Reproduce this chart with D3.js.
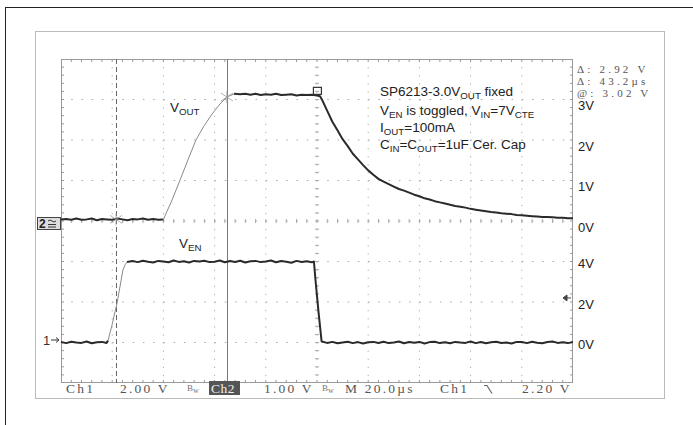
<!DOCTYPE html>
<html><head><meta charset="utf-8">
<script src="https://cdn.jsdelivr.net/npm/d3@7"></script>
<style>body{margin:0;background:#fff}svg{display:block}</style>
</head><body><svg id="c" width="693" height="425"></svg>
<script>
// ---------- DATA ----------
const venTime = [0,2,4,6,8,10,12,14,16,17.8,
  18.4,19.9,21.9,24.2,25.1,25.8,
  28,30,32,34,36,38,40,42,44,46,48,50,52,54,56,58,60,62,64,66,68,70,72,74,76,78,80,82,84,86,88,90,92,94,96,98,
  98.8,99.4,100.6,101.8,
  104,106,108,110,112,114,116,118,120,122,124,126,128,130,132,134,136,138,140,142,144,146,148,150,
  152,154,156,158,160,162,164,166,168,170,172,174,176,178,180,182,184,186,188,190,192,194,196,198,200];
const venVolts = [0.02,-0.03,0.04,0.0,-0.02,0.05,-0.04,0.01,0.03,-0.02,
  0.1,0.85,1.95,3.58,3.85,3.98,
  4.02,3.97,4.04,3.99,3.95,4.03,4.0,3.96,4.05,3.98,4.01,3.95,4.03,4.0,4.04,3.97,3.99,4.05,3.96,4.02,3.98,4.04,3.95,4.01,4.03,3.97,4.0,4.05,3.96,4.02,3.99,3.94,4.03,3.98,4.01,3.96,
  4.0,3.1,1.5,0.05,
  -0.02,0.03,-0.04,0.0,0.04,-0.03,0.02,-0.05,0.01,0.03,-0.02,0.04,-0.03,0.0,0.05,-0.04,0.02,-0.01,0.03,-0.05,0.02,0.04,-0.03,0.01,
  -0.04,0.03,0.0,-0.02,0.05,-0.03,0.02,-0.04,0.01,0.04,-0.02,0.0,-0.05,0.03,0.02,-0.03,0.04,-0.01,-0.04,0.02,0.05,-0.02,0.01,-0.03,0.02];

const voutTime = [0,2,4,6,8,10,12,14,16,18,20,22,24,26,28,30,32,34,36,38,40,
  43.4,46.5,49.6,52.7,55.9,59.0,62.1,64.8,67.6,
  70,72,74,76,78,80,82,84,86,88,90,92,94,96,98,100,
  101.2,102,104,106,108,110,112,114,116,118,120,122,124,126,128,130,132,134,136,138,140,142,144,146,148,150,
  152,154,156,158,160,162,164,166,168,170,172,174,176,178,180,182,184,186,188,190,192,194,196,198,200];
const voutVolts = [0.04,0.05,0.03,0.06,0.03,0.04,0.06,0.02,0.05,0.04,0.03,0.06,0.04,0.02,0.05,0.04,0.06,0.03,0.05,0.03,0.04,
  0.52,1.01,1.51,2.0,2.35,2.64,2.89,3.06,3.14,
  3.13,3.14,3.12,3.14,3.11,3.13,3.12,3.14,3.11,3.12,3.13,3.10,3.12,3.11,3.12,3.10,
  3.08,2.99,2.72,2.45,2.24,2.02,1.85,1.66,1.52,1.38,1.25,1.14,1.04,0.97,0.91,0.85,0.79,0.75,0.70,0.65,0.61,0.56,0.53,0.49,0.46,0.43,
  0.40,0.37,0.35,0.33,0.30,0.28,0.26,0.24,0.22,0.21,0.19,0.18,0.17,0.15,0.14,0.13,0.12,0.11,0.10,0.10,0.09,0.08,0.08,0.07,0.07];

const voutFast = [40, 67.6];   // dim (fast) portion of the VOUT trace
const venFast = [18.2, 25.8];  // dim portion of the VEN trace
const cursorTimes = [21.5, 64.8];
const voutTickValues = [0,1,2,3];
const voutTickLabels = ["0V","1V","2V","3V"];
const venTickValues = [0,2,4];
const venTickLabels = ["0V","2V","4V"];
const readouts = ["\u0394: 2.92 V","\u0394: 43.2\u00b5s","@: 3.02 V"];
const statusTexts = ["Ch1","2.00 V","Ch2","1.00 V","M 20.0\u00b5s","Ch1","2.20 V"];
const timeDomain = [0,200];
const divisionsX = 10, divisionsY = 8;

// ---------- DRAW ----------
const svg = d3.select("#c");
const L = 61, R = 573, T = 59, B = 383;
const x = d3.scaleLinear().domain(timeDomain).range([L,R]);
const y2 = d3.scaleLinear().domain([-4,4]).range([B,T]);   // Ch2 VOUT 1V/div
const y1 = d3.scaleLinear().domain([-2,14]).range([B,T]);  // Ch1 VEN 2V/div

svg.append("rect").attr("x",5.5).attr("y",7.5).attr("width",720).attr("height",440)
  .attr("fill","none").attr("stroke","#222").attr("stroke-width",1);
svg.append("rect").attr("x",35.5).attr("y",31.5).attr("width",629).attr("height",367)
  .attr("fill","none").attr("stroke","#777").attr("stroke-width",1).attr("stroke-dasharray","1,1");

const g = svg.append("g");
const dx = (R-L)/divisionsX, dyy = (B-T)/divisionsY;
const xt = d3.range(1,divisionsX).map(i=>L+i*dx);
const yt = d3.range(1,divisionsY).map(i=>T+i*dyy);
g.selectAll(".gv").data(xt).join("line").attr("x1",d=>d).attr("x2",d=>d).attr("y1",T).attr("y2",B)
  .attr("stroke","#aaa").attr("stroke-width",1).attr("stroke-dasharray",`1.2,${(dyy/5-1.2).toFixed(2)}`);
g.selectAll(".gh").data(yt).join("line").attr("y1",d=>d).attr("y2",d=>d).attr("x1",L).attr("x2",R)
  .attr("stroke","#aaa").attr("stroke-width",1).attr("stroke-dasharray",`1.5,${(dx/5-1.5).toFixed(2)}`);
const minorX = d3.range(1,divisionsX*5).map(i=>L+i*dx/5);
const minorY = d3.range(1,divisionsY*5).map(i=>T+i*dyy/5);
const cx = L+5*dx, cy = T+4*dyy;
g.selectAll(".mt").data(minorX).join("line").attr("x1",d=>d).attr("x2",d=>d).attr("y1",T).attr("y2",T+3).attr("stroke","#999");
g.selectAll(".mb").data(minorX).join("line").attr("x1",d=>d).attr("x2",d=>d).attr("y1",B-3).attr("y2",B).attr("stroke","#999");
g.selectAll(".mc").data(minorX).join("line").attr("x1",d=>d).attr("x2",d=>d).attr("y1",cy-2).attr("y2",cy+2).attr("stroke","#aaa");
g.selectAll(".ml").data(minorY).join("line").attr("y1",d=>d).attr("y2",d=>d).attr("x1",L).attr("x2",L+3).attr("stroke","#999");
g.selectAll(".mr").data(minorY).join("line").attr("y1",d=>d).attr("y2",d=>d).attr("x1",R-3).attr("x2",R).attr("stroke","#999");
g.selectAll(".mcy").data(minorY).join("line").attr("y1",d=>d).attr("y2",d=>d).attr("x1",cx-2).attr("x2",cx+2).attr("stroke","#aaa");
g.append("rect").attr("x",L+0.5).attr("y",T+0.5).attr("width",R-L-1).attr("height",B-T-1)
  .attr("fill","none").attr("stroke","#999").attr("stroke-width",1);

// cursors
svg.append("line").attr("x1",Math.round(x(cursorTimes[0]))+0.5).attr("x2",Math.round(x(cursorTimes[0]))+0.5)
  .attr("y1",T).attr("y2",B).attr("stroke","#666").attr("stroke-dasharray","5,3");
svg.append("line").attr("x1",Math.round(x(cursorTimes[1]))+0.5).attr("x2",Math.round(x(cursorTimes[1]))+0.5)
  .attr("y1",T).attr("y2",B).attr("stroke","#777");

// traces
function drawTrace(times, volts, ys, fast){
  const pts = times.map((t,i)=>[x(t), ys(volts[i]), t]);
  const segs = [];
  let cur = null;
  for(let i=0;i<pts.length-1;i++){
    const mid = (pts[i][2]+pts[i+1][2])/2;
    const isFast = mid>fast[0] && mid<fast[1];
    if(!cur || cur.fast!==isFast){ cur = {fast:isFast, pts:[pts[i]]}; segs.push(cur); }
    cur.pts.push(pts[i+1]);
  }
  const line = d3.line().x(d=>d[0]).y(d=>d[1]);
  svg.selectAll(null).data(segs).join("path").attr("d",d=>line(d.pts)).attr("fill","none")
    .attr("stroke",d=>d.fast?"#8a8a8a":"#2a2a2a").attr("stroke-width",d=>d.fast?1:2)
    .attr("stroke-linejoin","round");
}
drawTrace(voutTime, voutVolts, y2, voutFast);
drawTrace(venTime, venVolts, y1, venFast);

function star(px,py){
  const s = svg.append("g").attr("stroke","#999").attr("stroke-width",0.8);
  [[-6,-4,6,4],[-6,4,6,-4],[0,-6,0,6]].forEach(a=>s.append("line")
    .attr("x1",px+a[0]).attr("y1",py+a[1]).attr("x2",px+a[2]).attr("y2",py+a[3]));
}
star(x(cursorTimes[0]), y2(0.04));
star(x(cursorTimes[1]), y2(3.06));

svg.append("rect").attr("x",x(98.6)).attr("y",y2(3.3)).attr("width",8).attr("height",7)
  .attr("fill","none").attr("stroke","#333").attr("stroke-width",1.2);

// channel 2 ground marker
const m2 = svg.append("g");
m2.append("rect").attr("x",37.5).attr("y",217.5).attr("width",23).attr("height",12).attr("fill","#ddd").attr("stroke","#444");
m2.append("text").attr("x",39).attr("y",228).text("2").attr("font-family","Liberation Sans").attr("font-weight","bold").attr("font-size",12).attr("fill","#222");
m2.append("path").attr("d","M48,221 q2,-2 4,0 t4,0 M48,224.5 h8 M48,227 h8").attr("fill","none").attr("stroke","#333").attr("stroke-width",1);
// channel 1 ground marker "1→"
svg.append("text").attr("x",43).attr("y",y1(0)+2).text("1").attr("font-family","Liberation Sans").attr("font-size",13).attr("fill","#333");
svg.append("path").attr("d",`M51,${y1(0)-2.5} h8 M56,${y1(0)-5} l3,2.5 l-3,2.5`).attr("fill","none").attr("stroke","#333").attr("stroke-width",1);

// trigger level marker
const ty = y1(2.2);
svg.append("path").attr("d",`M${R-10},${ty} l4,-3 v6 z M${R-6},${ty} h4`).attr("fill","#444").attr("stroke","#444").attr("stroke-width",1);

// right axis labels
const ax2 = d3.axisRight(y2).tickValues(voutTickValues).tickFormat((d,i)=>voutTickLabels[i]).tickSize(0).tickPadding(0);
const ax1 = d3.axisRight(y1).tickValues(venTickValues).tickFormat((d,i)=>venTickLabels[i]).tickSize(0).tickPadding(0);
[[ax2,6],[ax1,2]].forEach(([a,off])=>{
  const gg = svg.append("g").attr("transform",`translate(578,${off})`).call(a);
  gg.select(".domain").remove();
  gg.selectAll("text").attr("font-family","Liberation Sans").attr("font-size",13).attr("fill","#222");
});

// readouts top-right
svg.selectAll(null).data(readouts).join("text").attr("x",577).attr("y",(d,i)=>73+i*12).text(d=>d)
  .attr("font-family","Liberation Serif").attr("font-size",11).attr("fill","#555").attr("letter-spacing",3.2);

function rich(xp, yp, parts, size){
  const t = svg.append("text").attr("x",xp).attr("y",yp).attr("font-family","Liberation Sans")
    .attr("font-size",size).attr("fill","#222");
  let sub = false;
  parts.forEach(([s,isSub])=>{
    const ts = t.append("tspan").text(s);
    if(isSub && !sub){ ts.attr("dy",3).attr("font-size",size*0.72); sub=true; }
    else if(isSub){ ts.attr("font-size",size*0.72); }
    else if(!isSub && sub){ ts.attr("dy",-3); sub=false; }
  });
}
rich(380, 96, [["SP6213-3.0V",0],["OUT",1],[" fixed",0]], 13.5);
rich(380, 115, [["V",0],["EN",1],[" is toggled, V",0],["IN",1],["=7V",0],["CTE",1]], 13.5);
rich(380, 132, [["I",0],["OUT",1],["=100mA",0]], 13.5);
rich(380, 149, [["C",0],["IN",1],["=C",0],["OUT",1],["=1uF Cer. Cap",0]], 13.5);
rich(170, 112, [["V",0],["OUT",1]], 13.5);
rich(179, 248, [["V",0],["EN",1]], 13.5);

// status line
const statusX = [66, 120, 211, 264, 345, 440, 522];
svg.append("rect").attr("x",209).attr("y",381).attr("width",31).attr("height",14).attr("fill","#555");
const st = svg.append("g").attr("font-family","Liberation Serif").attr("font-size",13.5);
statusTexts.forEach((s,i)=>{
  st.append("text").attr("x",statusX[i]).attr("y",393).text(s).attr("fill", i===2?"#eee":"#555")
    .attr("letter-spacing", i===2?0.5:2.2);
});
[187, 322].forEach(px=>{
  const b = svg.append("text").attr("x",px).attr("y",391).attr("font-family","Liberation Serif").attr("fill","#777");
  b.append("tspan").text("B").attr("font-size",9);
  b.append("tspan").text("w").attr("font-size",8).attr("dy",2);
});
svg.append("path").attr("d","M484,385.5 h3 l5,8").attr("fill","none").attr("stroke","#666").attr("stroke-width",1.2);
</script></body></html>
